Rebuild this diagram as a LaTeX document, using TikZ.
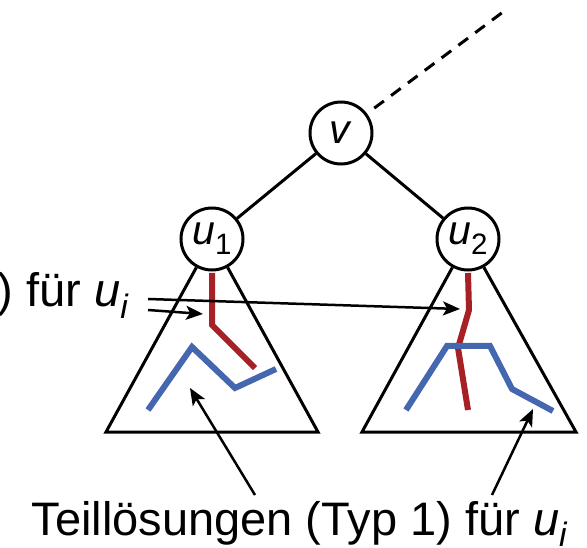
\documentclass[tikz,border=0pt]{standalone}
\usepackage{fontspec}
\setmainfont{Liberation Sans}
\usepackage{graphicx}
\usetikzlibrary{arrows.meta}

\definecolor{pathred}{RGB}{166,32,38}
\definecolor{pathblue}{RGB}{68,103,176}
\newcommand{\idx}[2]{\textit{#1}\raisebox{-0.25em}{\scalebox{0.72}{#2}}}

\tikzset{
  vert/.style={draw,circle,fill=white,minimum size=62pt,inner sep=0pt,
    font=\fontsize{41}{44}\selectfont},
  redpath/.style={draw=pathred,line width=6pt},
  bluepath/.style={draw=pathblue,line width=6pt},
  arr/.style={-{Stealth[length=17pt,width=14pt,inset=4pt]},line width=2.5pt},
  lbl/.style={inner sep=0pt,font=\fontsize{47}{52}\selectfont}
}

\begin{document}
\begin{tikzpicture}[x=1pt,y=-1pt,line width=3pt]
\useasboundingbox (0,0) rectangle (587,548);

        \node[vert] (v) at (341,133) {\textit{v}};
        \node[vert] (u1) at (212,239) {\idx{u}{1}};
        \node[vert] (u2) at (468,239) {\idx{u}{2}};
        \coordinate (up) at (503,12);

        \draw (v) -- (u1);
        \draw (v) -- (u2);
        \draw[dash pattern=on 12pt off 9pt,shorten <=9pt] (v) -- (up);

        % subtrees
        \coordinate (t1l) at (106,432);
        \coordinate (t1r) at (318,432);
        \coordinate (t2l) at (362,432);
        \coordinate (t2r) at (576,432);
        \draw (u1) -- (t1l) -- (t1r) -- (u1);
        \draw (u2) -- (t2l) -- (t2r) -- (u2);

        % partial solutions
        \draw[redpath] ([yshift=-1.5pt]u1.south) -- (212,325) -- (255,368);
        \draw[bluepath] (148,410) -- (192,347) -- (235,388) -- (276,369);
        \draw[redpath] ([yshift=-1.5pt]u2.south) -- (469,310) -- (458,348) -- (468,410);
        \draw[bluepath] (406,410) -- (447,346) -- (490,346) -- (512,389) -- (553,411);

        % labels
        \node[lbl,anchor=base west] (sol1) at (30,535) {Teillösungen (Typ 1) für \idx{u}{\textit{i}}};
        \node[lbl,anchor=base west] (sol2) at (-4,307) {) für \idx{u}{\textit{i}}};

        \coordinate (tip1) at (460,309);
        \coordinate (tip2) at (203,314);
        \coordinate (tip3) at (190,388);
        \coordinate (tip4) at (533,409);
        \draw[arr] ([xshift=18pt,yshift=8pt]sol2.base east) -- (tip1);
        \draw[arr] ([xshift=18pt,yshift=-3pt]sol2.base east) -- (tip2);
        \draw[arr] ([xshift=225pt,yshift=40pt]sol1.base west) -- (tip3);
        \draw[arr] ([xshift=462pt,yshift=40pt]sol1.base west) -- (tip4);
\end{tikzpicture}
\end{document}
